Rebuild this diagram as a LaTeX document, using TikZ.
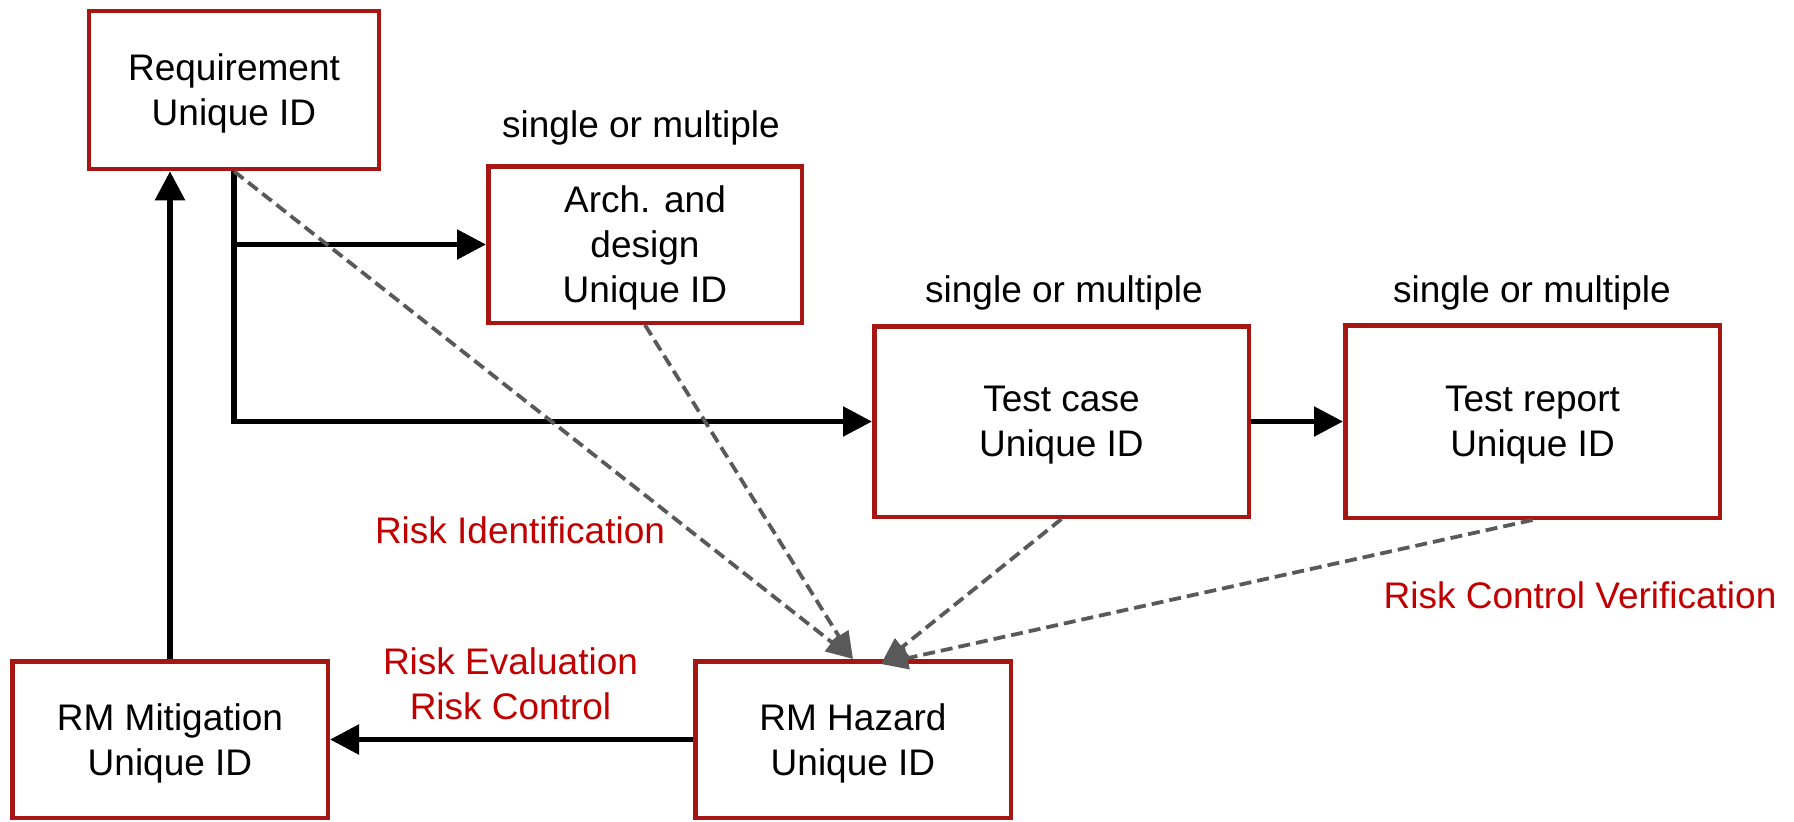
\documentclass[tikz,border=0pt]{standalone}
\usepackage{fontspec}
\setmainfont{Liberation Sans}
\usetikzlibrary{arrows.meta}
\definecolor{boxred}{RGB}{166,22,18}
\definecolor{txtred}{RGB}{192,0,0}
\definecolor{dgray}{RGB}{89,89,89}
\begin{document}
\begin{tikzpicture}[x=1pt,y=-1pt,
  box/.style={draw=boxred, line width=4.5pt, fill=white, align=center, inner sep=0pt,
    text depth=-7pt, font=\fontsize{37pt}{45pt}\selectfont},
  lbl/.style={inner sep=0pt, font=\fontsize{37pt}{45pt}\selectfont},
  rlbl/.style={lbl, text=txtred, align=center},
  blk/.style={line width=5.5pt, -{Triangle[length=29pt,width=29pt]}},
  dsh/.style={dgray, line width=3.8pt, dash pattern=on 12pt off 6pt,
    -{Triangle[length=27pt,width=22pt]}}
  ]
\useasboundingbox (0,0) rectangle (1794,822);
\node[box, minimum width=290pt, minimum height=158pt] (req) at (234,90) {Requirement\\Unique ID};
\node[box, minimum width=313.5pt, minimum height=156.5pt] (arch) at (645,244.5) {Arch. and\\design\\Unique ID};
\node[box, minimum width=374.5pt, minimum height=190.5pt] (tc) at (1061.5,421.5) {Test case\\Unique ID};
\node[box, minimum width=374.5pt, minimum height=192.5pt] (tr) at (1532.5,421.5) {Test report\\Unique ID};
\node[box, minimum width=315.5pt, minimum height=156.5pt] (haz) at (853,739.5) {RM Hazard\\Unique ID};
\node[box, minimum width=315.5pt, minimum height=156.5pt] (mit) at (170,739.5) {RM Mitigation\\Unique ID};

\node[lbl, anchor=base] (s1) at (641,137) {single or multiple};
\node[lbl, anchor=base] (s2) at (1064,302) {single or multiple};
\node[lbl, anchor=base] (s3) at (1532,302) {single or multiple};
\node[rlbl, anchor=base] (ri) at (520,543) {Risk Identification};
\node[rlbl] (rec) at (510.5,683.5) {Risk Evaluation\\Risk Control};
\node[rlbl, anchor=base] (rcv) at (1580,608) {Risk Control Verification};

\coordinate (hz2) at (881,664);

\draw[blk] (mit.north) -- (mit.north |- req.south);
\draw[blk] (req.south) |- (tc.west);
\draw[blk] (req.south |- arch.west) -- (arch.west);
\draw[blk] (tc.east) -- (tr.west);
\draw[blk] (haz.west) -- (mit.east);

\draw[dsh] (req.south) -- (haz.north);
\draw[dsh] (arch.south) -- (haz.north);
\draw[dsh] (tc.south) -- (hz2);
\draw[dsh] (tr.south) -- (hz2);
\end{tikzpicture}
\end{document}
